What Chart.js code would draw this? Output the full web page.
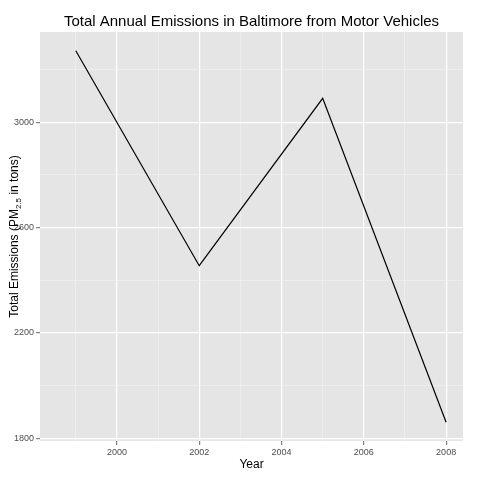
<!DOCTYPE html>
<html>
<head>
<script src="https://cdn.jsdelivr.net/npm/chart.js@4"></script>
<style>body{margin:0;background:#fff}#wrap{width:480px;height:480px}</style>
</head>
<body>
<div id="wrap"><canvas id="myChart"></canvas></div>
<script>
const years = [1999, 2002, 2005, 2008];
const emissions = [3272, 2455, 3091, 1860];
const xTickLabels = [2000, 2002, 2004, 2006, 2008];
const yTickLabels = [1800, 2200, 2600, 3000];

// fondo gris del panel y textos al estilo ggplot
const panelPlugin = {
  id: "panel",
  beforeDraw(chart) {
    const { ctx, chartArea: a } = chart;
    ctx.save();
    ctx.fillStyle = "#E5E5E5";
    ctx.fillRect(a.left, a.top, a.right - a.left, a.bottom - a.top);
    ctx.restore();
  },
  afterDraw(chart) {
    const { ctx, chartArea: a } = chart;
    ctx.save();
    ctx.fillStyle = "#000";
    ctx.textAlign = "center";
    ctx.textBaseline = "middle";
    ctx.font = "15px 'Liberation Sans', Arial";
    ctx.fillText("Total Annual Emissions in Baltimore from Motor Vehicles", (a.left + a.right) / 2, 22);
    ctx.font = "12px 'Liberation Sans', Arial";
    ctx.fillText("Year", (a.left + a.right) / 2, 465);
    // titulo eje Y con subindice
    ctx.translate(15, (a.top + a.bottom) / 2);
    ctx.rotate(-Math.PI / 2);
    ctx.textAlign = "left";
    const f = "12px 'Liberation Sans', Arial", fs = "8px 'Liberation Sans', Arial";
    const p1 = "Total Emissions (PM", p2 = "2.5", p3 = " in tons)";
    ctx.font = f; const w1 = ctx.measureText(p1).width, w3 = ctx.measureText(p3).width;
    ctx.font = fs; const w2 = ctx.measureText(p2).width;
    let x = -(w1 + w2 + w3) / 2;
    ctx.font = f; ctx.fillText(p1, x, 0); x += w1;
    ctx.font = fs; ctx.fillText(p2, x, 4); x += w2;
    ctx.font = f; ctx.fillText(p3, x, 0);
    ctx.restore();
  }
};

const config = {
  type: "line",
  data: {
    datasets: [{
      data: years.map((y, i) => ({ x: y, y: emissions[i] })),
      borderColor: "#000",
      borderWidth: 1.2,
      pointRadius: 0,
      tension: 0
    }]
  },
  options: {
    responsive: true,
    maintainAspectRatio: false,
    animation: false,
    layout: { padding: { top: 32, right: 17, left: 0, bottom: 0 } },
    plugins: { legend: { display: false }, tooltip: { enabled: false } },
    scales: {
      x: {
        type: "linear",
        min: 1998.13, max: 2008.41,
        afterBuildTicks(s) { s.ticks = [1999,2000,2001,2002,2003,2004,2005,2006,2007,2008].map(v => ({ value: v })); },
        afterFit(s) { s.height = 39; },
        border: { display: false },
        grid: {
          color: c => xTickLabels.includes(c.tick && c.tick.value) ? "#fff" : "#F2F2F2",
          lineWidth: c => xTickLabels.includes(c.tick && c.tick.value) ? 1.2 : 0.6,
          tickColor: c => xTickLabels.includes(c.tick && c.tick.value) ? "#7F7F7F" : "rgba(0,0,0,0)",
          tickLength: 4
        },
        ticks: {
          autoSkip: false, maxRotation: 0, padding: 2,
          color: "#4D4D4D", font: { size: 9, family: "'Liberation Sans', Arial" },
          callback: v => xTickLabels.includes(v) ? String(v) : ""
        }
      },
      y: {
        min: 1789, max: 3343,
        afterBuildTicks(s) { s.ticks = [1800,2000,2200,2400,2600,2800,3000,3200].map(v => ({ value: v })); },
        afterFit(s) { s.width = 40; },
        border: { display: false },
        grid: {
          color: c => yTickLabels.includes(c.tick && c.tick.value) ? "#fff" : "#F2F2F2",
          lineWidth: c => yTickLabels.includes(c.tick && c.tick.value) ? 1.2 : 0.6,
          tickColor: c => yTickLabels.includes(c.tick && c.tick.value) ? "#7F7F7F" : "rgba(0,0,0,0)",
          tickLength: 4
        },
        ticks: {
          autoSkip: false, padding: 2,
          color: "#4D4D4D", font: { size: 9, family: "'Liberation Sans', Arial" },
          callback: v => yTickLabels.includes(v) ? String(v) : ""
        }
      }
    }
  },
  plugins: [panelPlugin]
};

let myChart = new Chart(document.getElementById("myChart"), config);
</script>
</body>
</html>
